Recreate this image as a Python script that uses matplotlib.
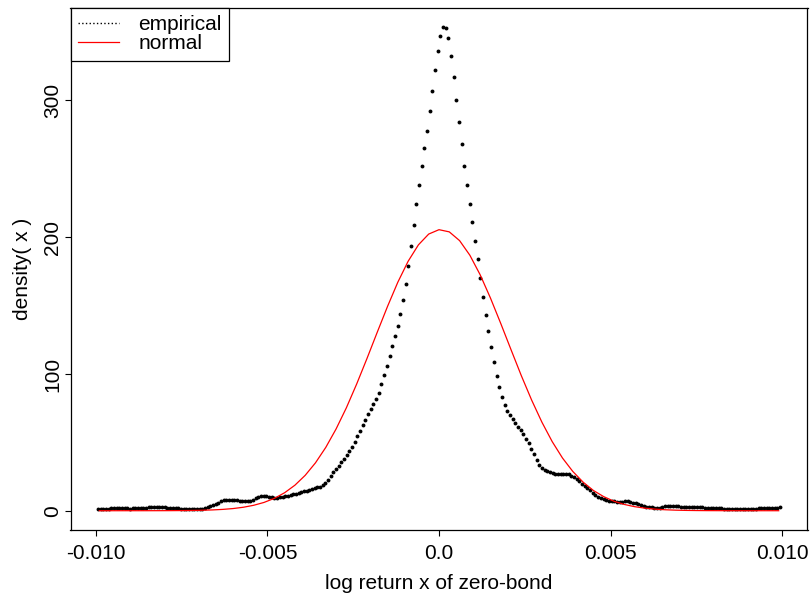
import numpy as np
import matplotlib
matplotlib.use("Agg")
import matplotlib.pyplot as plt

plt.rcParams["font.family"] = ["Liberation Sans", "DejaVu Sans"]
plt.rcParams["font.size"] = 15

# empirical density (256 points between -0.00994 and 0.00994)
emp_x_range = (-0.00994, 0.00994)
emp_y = [
    1.5, 1.5, 1.5, 1.5, 1.5, 2.2, 2.2, 2.2, 2.2, 2.2, 2.2, 2.2, 1.5,
    2.2, 2.2, 2.2, 2.2, 2.2, 2.2, 2.9, 2.9, 2.9, 2.9, 2.9, 2.9, 2.9,
    2.2, 2.2, 2.2, 2.2, 2.2, 1.5, 1.5, 1.5, 1.5, 1.5, 1.5, 1.5, 1.5, 1.5,
    2.2, 2.9, 3.6, 4.4, 5.1, 5.8, 6.8, 7.5, 8.0, 8.0, 8.0, 8.0, 7.5,
    7.1, 7.1, 7.1, 7.1, 6.9, 8.0, 9.2, 10.2, 10.7, 10.9, 10.7, 10.2,
    9.7, 9.5, 9.5, 9.7, 10.0, 10.4, 10.9, 11.4, 11.9, 12.4, 12.9, 13.4,
    14.1, 14.6, 15.1, 15.6, 16.3, 17.0, 17.7, 18.7, 20.2, 22.6, 25.5,
    28.0, 30.4, 32.8, 35.3, 38.0, 40.9, 44.0, 46.9, 50.4, 54.5, 58.5,
    62.5, 66.5, 70.5, 74.5, 78.0, 81.5, 85.9, 92.5, 99.3, 105.8, 113.0,
    120.4, 127.7, 135.0, 143.8, 154.0, 165.7, 178.8, 193.4, 208.8, 224.0,
    238.5, 252.3, 265.5, 278.0, 292.0, 306.6, 321.9, 336.5, 347.4, 353.5,
    352.8, 345.3, 332.8, 317.5, 300.5, 284.0, 267.9, 252.3, 238.5, 224.6,
    210.9, 197.0, 183.7, 169.9, 156.2, 143.0, 131.4, 119.7, 108.8, 98.5,
    90.5, 83.2, 77.2, 73.0, 70.0, 67.2, 64.5, 61.5, 58.9, 56.2, 52.8,
    49.4, 45.0, 41.6, 37.2, 33.6, 31.2, 29.7, 28.7, 28.0, 27.5, 27.2,
    27.0, 27.0, 27.0, 27.0, 26.5, 25.5, 24.6, 23.1, 21.4, 19.9, 18.2,
    16.6, 14.8, 12.9, 11.5, 10.0, 9.3, 8.5, 7.8, 7.3, 7.1, 6.8, 6.6,
    6.6, 6.6, 6.8,
    6.8, 6.3, 5.8, 5.4, 4.9, 4.4, 3.4, 2.9, 2.7, 2.7, 2.2, 2.2, 2.2,
    2.9, 3.4, 3.6, 3.6, 3.6, 3.6, 3.4, 2.9, 2.9, 2.9, 2.7, 2.4, 2.4,
    2.4, 2.4, 2.4, 1.9, 1.7, 1.7, 1.7, 1.7, 1.7, 1.7, 1.2, 1.2, 1.2,
    1.2, 1.2, 1.2, 1.2, 1.2, 1.2, 1.2, 1.2, 1.2, 1.2, 1.7, 1.7, 1.7,
    1.7, 1.7, 1.7, 1.7, 2.2, 2.4,
]

# fitted normal curve, read every 0.0003 from -0.0099
norm_x_range = (-0.0099, 0.0099)
norm_y = [
    0.0, 0.0, 0.0, 0.004, 0.008, 0.016, 0.03, 0.057, 0.106, 0.19, 0.34,
    0.58, 0.97, 1.59, 2.54, 3.98, 6.06, 9.03, 13.14, 18.65, 25.87, 35.02,
    46.30, 59.75, 75.25, 92.62, 111.25, 130.5, 149.4, 167.1, 182.4, 194.4,
    202.3, 205.5, 203.9, 197.5, 186.8, 172.5, 155.5, 136.9, 117.7, 98.7,
    80.9, 64.7, 50.5, 38.5, 28.7, 20.9, 14.8, 10.3, 6.94, 4.59, 2.96,
    1.87, 1.15, 0.69, 0.40, 0.23, 0.13, 0.07, 0.04, 0.02, 0.01, 0.0,
    0.0, 0.0, 0.0,
]

x_ticks = [-0.010, -0.005, 0.0, 0.005, 0.010]
x_tick_labels = ["-0.010", "-0.005", "0.0", "0.005", "0.010"]
y_ticks = [0, 100, 200, 300]

emp_x = np.linspace(emp_x_range[0], emp_x_range[1], len(emp_y))
norm_x = np.linspace(norm_x_range[0], norm_x_range[1], len(norm_y))

fig = plt.figure(figsize=(8.12, 5.97), dpi=100)
ax = fig.add_axes([70.5 / 812, 1 - 530 / 597, (807.5 - 70.5) / 812, (530 - 8) / 597])

ax.plot(emp_x, emp_y, "o", color="black", ms=2.8, mew=0)
ax.plot(norm_x, norm_y, color="red", lw=0.9)

ax.set_xlim(-0.01074, 0.01074)
ax.set_ylim(-14.1, 367.6)

ax.set_xticks(x_ticks)
ax.set_xticklabels(x_tick_labels)
ax.set_yticks(y_ticks)
ax.set_yticklabels([str(v) for v in y_ticks], rotation=90, va="center")
ax.tick_params(direction="out", length=4, width=0.8, color="black")
ax.tick_params(axis="x", pad=6)
ax.tick_params(axis="y", pad=2)

for s in ax.spines.values():
    s.set_color("black")
    s.set_linewidth(0.9)

ax.set_xlabel("log return x of zero-bond", labelpad=8)
ax.set_ylabel("density( x )", labelpad=8)

# R-style legend in the top-left corner
handles = [
    plt.Line2D([], [], color="black", ls=":", lw=1),
    plt.Line2D([], [], color="red", lw=0.9),
]
leg = ax.legend(handles, ["empirical", "normal"], loc="upper left",
                borderaxespad=0, fancybox=False, framealpha=1,
                edgecolor="black", handlelength=2.0, handletextpad=0.9,
                labelspacing=0.0, borderpad=0.35)
leg.get_frame().set_linewidth(0.9)

fig.savefig("out.png", dpi=100)
